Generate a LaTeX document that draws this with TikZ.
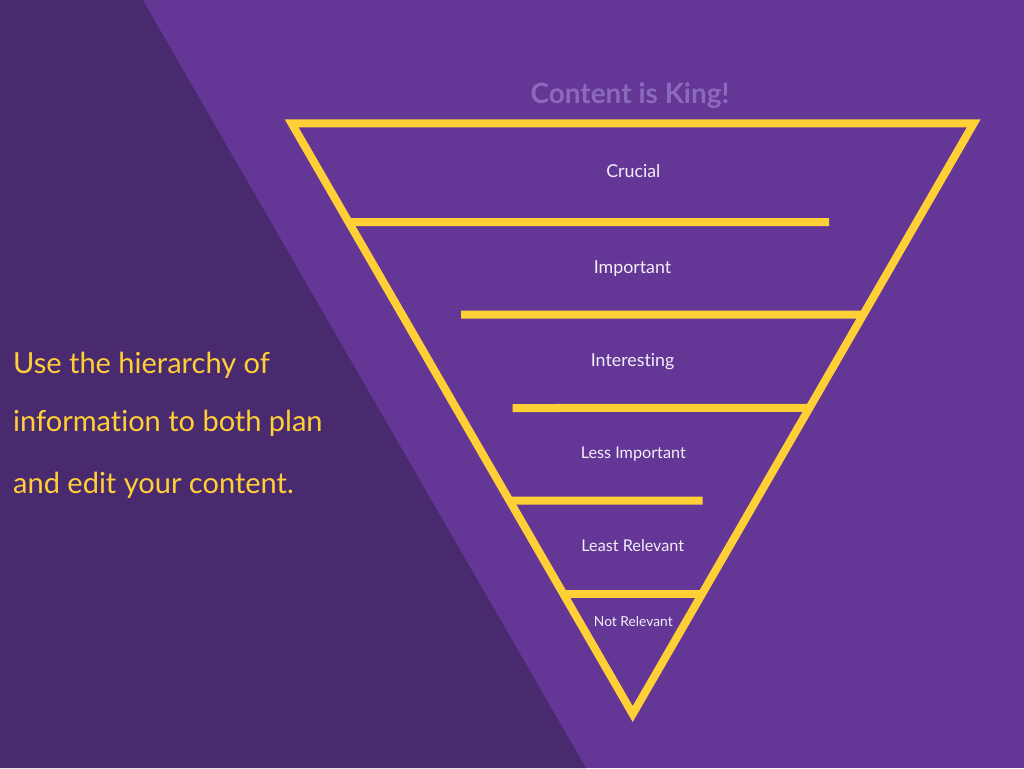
\documentclass[tikz,border=0pt]{standalone}
\usepackage{fontspec}
\setmainfont{Lato}[Ligatures=NoCommon]
\usetikzlibrary{calc}
\definecolor{bgmain}{HTML}{643797}
\definecolor{bgdark}{HTML}{4A2A6F}
\definecolor{gold}{HTML}{FFCF36}
\definecolor{titlecol}{HTML}{8B69BC}
\definecolor{labelcol}{HTML}{F3EEF8}
\tikzset{
  bar/.style={draw=gold,line width=8pt,line cap=butt},
  funnel/.style={draw=gold,line width=8pt,line join=miter},
  lvl/.style={text=labelcol,anchor=base,inner sep=0pt},
  side/.style={text=gold,anchor=base west,inner sep=0pt,font=\fontsize{29}{30}\selectfont}
}
\begin{document}
\begin{tikzpicture}[x=1pt,y=-1pt]
\useasboundingbox (0,0) rectangle (1024,768);
\fill[bgmain] (0,0) rectangle (1024,768);
\fill[bgdark] (0,0) -- (142.7,0) -- (586,768) -- (0,768) -- cycle;
% funnel triangle
\coordinate (A) at (291.6,123.3);
\coordinate (B) at (973.7,123.3);
\coordinate (C) at (632.7,714);
\draw[funnel] (A) -- (B) -- (C) -- cycle;
% level bars
\coordinate (e1) at (829,222);
\coordinate (s2) at (461,314.7);
\coordinate (s3) at (512.7,408);
\coordinate (e4) at (702.7,500.5);
\draw[bar] ($(A)!0.1671!(C)$) -- (e1);
\draw[bar] (s2) -- ($(B)!0.3240!(C)$);
\draw[bar] (s3) -- ($(B)!0.4819!(C)$);
\draw[bar] ($(A)!0.6386!(C)$) -- (e4);
\draw[bar] ($(A)!0.7968!(C)$) -- ($(B)!0.7968!(C)$);
% title
\node[text=titlecol,anchor=base,inner sep=0pt,font=\fontsize{28}{30}\selectfont\bfseries] (title) at (630,103.3) {Content is King!};
% labels
\node[lvl,font=\fontsize{17.8}{20}\selectfont] (l1) at (633.3,177.7) {Crucial};
\node[lvl,font=\fontsize{17.8}{20}\selectfont] (l2) at (632.5,273.3) {Important};
\node[lvl,font=\fontsize{17.8}{20}\selectfont] (l3) at (632.6,366.7) {Interesting};
\node[lvl,font=\fontsize{16.2}{18}\selectfont] (l4) at (633.3,458.3) {Less Important};
\node[lvl,font=\fontsize{16.2}{18}\selectfont] (l5) at (632.8,551.7) {Least Relevant};
\node[lvl,font=\fontsize{13.8}{16}\selectfont] (l6) at (633.3,626) {Not Relevant};
% side text
\node[side] (t1) at (13,373.3) {Use the hierarchy of};
\node[side] (t2) at (13,431.7) {information to both plan};
\node[side] (t3) at (13,493.3) {and edit your content.};
\end{tikzpicture}
\end{document}
